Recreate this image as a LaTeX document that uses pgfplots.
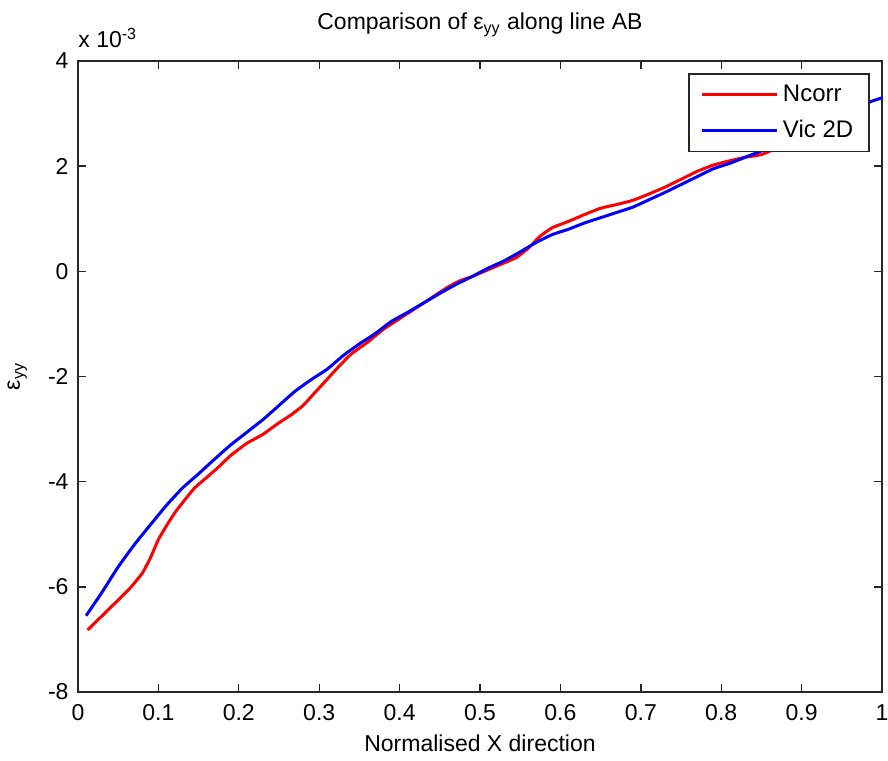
\documentclass[border=0pt]{standalone}
\usepackage{fontspec}
\setmainfont{Liberation Sans}
\usepackage{pgfplots}
\pgfplotsset{compat=1.18}
\begin{document}
\begin{tikzpicture}
\begin{axis}[
  name=ax,
  scale only axis,
  width=402pt, height=315.5pt,
  xmin=0, xmax=1, ymin=-8, ymax=4,
  xtick={0,0.1,...,1}, ytick={-8,-6,...,4},
  xticklabels={0,0.1,0.2,0.3,0.4,0.5,0.6,0.7,0.8,0.9,1},
  tick align=inside, tick pos=both,
  major tick length=4pt,
  /pgf/number format/assume math mode=true,
  ticklabel style={font=\fontsize{11.5}{13}\selectfont},
  xticklabel style={yshift=-2.7pt},
  yticklabel style={xshift=-1.2pt},
  every tick/.style={black!85, line width=0.7pt},
  axis line style={black!85, line width=0.8pt},
  title={Comparison of ε\textsubscript{yy} along line AB},
  title style={font=\fontsize{11.5}{13}\selectfont, at={([yshift=9.5pt]axis description cs:0.5,1)}, anchor=base},
  xlabel={Normalised X direction},
  ylabel={ε\textsubscript{yy}},
  label style={font=\fontsize{11.5}{13}\selectfont},
  xlabel style={at={([yshift=-29.5pt]axis description cs:0.5,0)}, anchor=base},
  ylabel style={at={([xshift=-29pt]axis description cs:0,0.5)}, anchor=base},
  legend style={at={([xshift=-6pt,yshift=-6pt]rel axis cs:1,1)}, anchor=north east,
    font=\fontsize{12}{14}\selectfont, draw=black!85, line width=0.8pt,
    inner xsep=6pt, inner ysep=3.5pt, row sep=4pt, cells={anchor=west}},
  legend image code/.code={\draw[#1] (0pt,0pt) -- (37.5pt,0pt);},
  clip mode=individual,
]
\addplot[red, line width=1.5pt, smooth, tension=0.3] coordinates {
(0.012,-6.82) (0.03,-6.55) (0.05,-6.25) (0.065,-6.02) (0.08,-5.74) (0.09,-5.45)
(0.1,-5.1) (0.11,-4.84) (0.12,-4.6) (0.13,-4.4) (0.145,-4.12) (0.16,-3.92) (0.175,-3.72)
(0.19,-3.5) (0.21,-3.27) (0.23,-3.1) (0.25,-2.88) (0.265,-2.73) (0.28,-2.55)
(0.295,-2.3) (0.31,-2.05) (0.325,-1.8) (0.34,-1.57) (0.36,-1.35) (0.38,-1.1)
(0.4,-0.9) (0.42,-0.7) (0.44,-0.5) (0.46,-0.3) (0.475,-0.18) (0.49,-0.1)
(0.51,0.03) (0.53,0.16) (0.545,0.26) (0.56,0.44) (0.575,0.67) (0.59,0.83)
(0.61,0.95) (0.63,1.08) (0.65,1.2) (0.67,1.27) (0.69,1.35) (0.71,1.47)
(0.73,1.6) (0.75,1.75) (0.77,1.9) (0.79,2.02) (0.81,2.1) (0.83,2.17)
(0.85,2.22) (0.87,2.35) (0.9,2.55) (0.93,2.8) (0.96,3.05) (0.985,3.22)
};
\addlegendentry{Ncorr}
\addplot[blue, line width=1.5pt, smooth, tension=0.3] coordinates {
(0.01,-6.55) (0.03,-6.1) (0.05,-5.62) (0.07,-5.2) (0.09,-4.82) (0.11,-4.45)
(0.13,-4.12) (0.15,-3.85) (0.17,-3.57) (0.19,-3.3) (0.21,-3.06) (0.23,-2.82)
(0.25,-2.55) (0.27,-2.28) (0.29,-2.06) (0.31,-1.86) (0.33,-1.6) (0.35,-1.38)
(0.37,-1.18) (0.39,-0.95) (0.41,-0.78) (0.43,-0.6) (0.45,-0.42) (0.47,-0.25)
(0.49,-0.1) (0.51,0.06) (0.53,0.2) (0.55,0.37) (0.57,0.55) (0.59,0.7)
(0.61,0.8) (0.63,0.92) (0.65,1.02) (0.67,1.12) (0.69,1.22) (0.71,1.36)
(0.73,1.5) (0.75,1.65) (0.77,1.8) (0.79,1.95) (0.81,2.05) (0.83,2.17)
(0.86,2.35) (0.89,2.55) (0.92,2.78) (0.95,3.0) (0.975,3.17) (1.0,3.3)
};
\addlegendentry{Vic 2D}
\node[anchor=base west, inner sep=0pt, font=\fontsize{11.5}{13}\selectfont] at ([yshift=6.5pt]rel axis cs:0,1) {x 10\textsuperscript{-3}};
\end{axis}
\pgfresetboundingbox
\path[use as bounding box] ([xshift=-39pt,yshift=-34pt]ax.south west) rectangle ([xshift=3pt,yshift=30.5pt]ax.north east);
\end{tikzpicture}
\end{document}
